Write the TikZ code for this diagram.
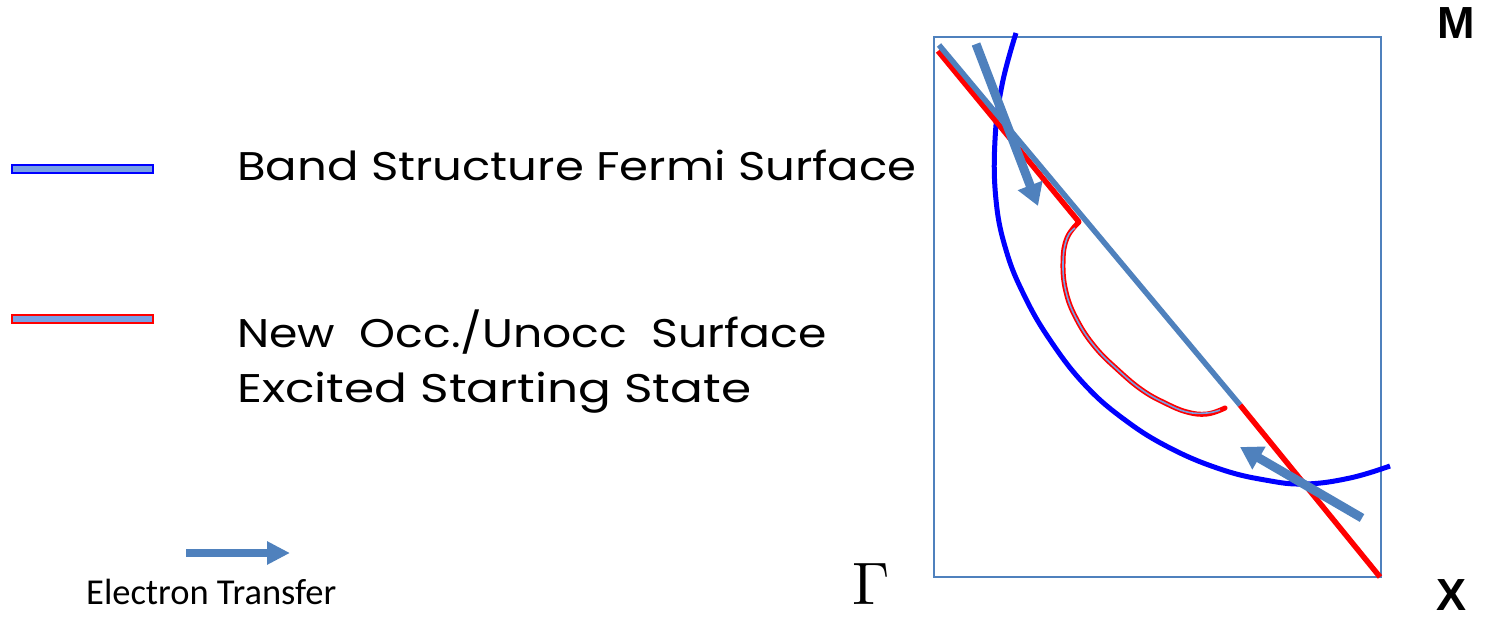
\documentclass[tikz,border=0pt]{standalone}
\usepackage{fontspec}
\usepackage{graphicx}
\setmainfont{Poppins}
\newfontfamily\calfont{Carlito}
\newfontfamily\arialfont{Liberation Sans}
\usetikzlibrary{arrows.meta}
\definecolor{steel}{RGB}{79,129,189}
\definecolor{pureblue}{RGB}{0,0,255}
\definecolor{purered}{RGB}{255,0,0}
\definecolor{lightfill}{RGB}{120,160,228}
\tikzset{
  lbl/.style={anchor=base west,inner sep=0pt,font=\fontsize{40}{48}\selectfont},
  legbar/.style={line width=2pt,fill=lightfill},
  fermi/.style={pureblue,line width=5pt},
  occ/.style={purered,line width=5.5pt},
  mainline/.style={steel,line width=5.5pt},
  transfer/.style={steel,line width=9pt,-{Triangle[length=22pt,width=25pt]}},
  frame/.style={steel,line width=1.5pt},
  corner/.style={inner sep=0pt,anchor=base,font=\arialfont\bfseries\fontsize{45}{50}\selectfont}
}
\begin{document}
\begin{tikzpicture}[x=1pt,y=-1pt]
\useasboundingbox (0,0) rectangle (1485,617);
% legend
\draw[legbar,draw=pureblue] (12,165) rectangle (153,173);
\draw[legbar,draw=purered] (12,315) rectangle (153,323);
\node[lbl] (t1) at (237,181) {\scalebox{1.165}[1]{Band Structure Fermi Surface}};
\node[lbl] (t2) at (237,348) {\scalebox{1.143}[1]{New\ \ Occ./Unocc\ \ Surface}};
\node[lbl] (t3) at (237,402) {\scalebox{1.215}[1]{Excited Starting State}};
\coordinate (la) at (186,553);
\coordinate (lb) at (290,553);
\draw[steel,line width=8pt,-{Triangle[length=23pt,width=22pt]}] (la) -- (lb);
\node[anchor=base west,inner sep=0pt,font=\calfont\fontsize{36.5}{40}\selectfont] (et) at (86,604) {Electron Transfer};
\node[anchor=base,inner sep=0pt] (gam) at (871,604) {\scalebox{6}{$\Gamma$}};
\node[corner] (M) at (1456,39) {M};
\node[corner] (X) at (1451,610) {X};
% frame
\draw[frame] (934,37) rectangle (1381,577);
% Fermi surface
\draw[fermi] plot[smooth,tension=0.7] coordinates {(1016,33) (1002,85) (995,140) (996,200) (1006,250) (1024,295) (1050,340) (1085,385) (1125,420) (1170,448) (1220,469) (1265,480) (1305,484) (1350,478) (1390,466)};
% red segments and main line
\coordinate (r1) at (938,51);
\coordinate (r2) at (1079,222);
\coordinate (r3) at (1240,405);
\coordinate (r4) at (1380,577);
\draw[occ] (r1) -- (r2);
\draw[occ] (r3) -- (r4);
\coordinate (b1) at (939,45);
\coordinate (b2) at (1240,405);
\draw[mainline] (b1) -- (b2);
% red curve (double)
\draw[purered,line width=5pt,line cap=round] plot[smooth,tension=0.7] coordinates {(r2) (1067,238) (1063,262) (1066,292) (1077,320) (1095,347) (1118,370) (1142,390) (1165,403) (1187,412) (1207,414) (1225,408)};
\draw[lightfill,line width=1.6pt] plot[smooth,tension=0.7] coordinates {(1075,228) (1067,238) (1063,262) (1066,292) (1077,320) (1095,347) (1118,370) (1142,390) (1165,403) (1187,412) (1207,413) (1220,410)};
% transfer arrows
\coordinate (a1s) at (976,44);
\coordinate (a1e) at (1038,206);
\coordinate (a2s) at (1362,518);
\coordinate (a2e) at (1240,447);
\draw[transfer] (a1s) -- (a1e);
\draw[transfer] (a2s) -- (a2e);
\end{tikzpicture}
\end{document}
